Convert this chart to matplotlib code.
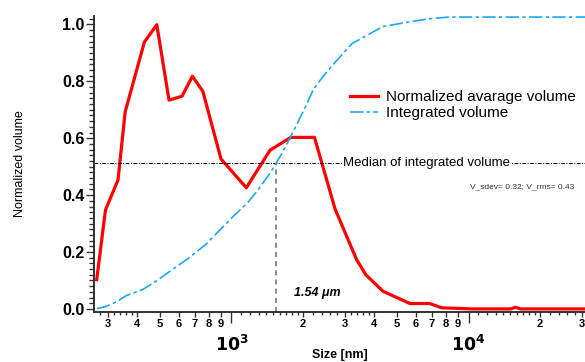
import math
import matplotlib
matplotlib.use("Agg")
import matplotlib.pyplot as plt
from matplotlib.ticker import FixedLocator, FuncFormatter

plt.rcParams['font.family'] = ['Liberation Sans', 'DejaVu Sans']

# Normalized average volume (red)
size_norm = [270, 294, 332, 356, 429, 484, 545, 619, 684, 757, 903, 1155, 1454,
             1778, 2239, 2738, 3373, 3687, 4357, 5659, 6855, 7698, 10260, 15070,
             15750, 16590, 31000]
norm_vol = [0.103, 0.348, 0.453, 0.693, 0.938, 0.999, 0.734, 0.748, 0.818, 0.765,
            0.527, 0.426, 0.558, 0.603, 0.603, 0.350, 0.173, 0.120, 0.062, 0.019,
            0.019, 0.004, 0.0, 0.0, 0.006, 0.0, 0.0]

# Integrated volume (blue)
size_int = [271, 297, 327, 360, 422, 480, 562, 660, 775, 909, 1033, 1174, 1292,
            1468, 1616, 1807, 2022, 2226, 2488, 2784, 3214, 3713, 4359, 5277,
            6813, 8254, 31000]
int_vol = [0.001, 0.009, 0.025, 0.047, 0.068, 0.097, 0.138, 0.179, 0.225, 0.284,
           0.331, 0.375, 0.418, 0.482, 0.541, 0.617, 0.700, 0.775, 0.827, 0.874,
           0.932, 0.961, 0.993, 1.005, 1.020, 1.026, 1.026]

median_size = 1540
median_level = 0.512

fig = plt.figure(figsize=(5.85, 3.62), dpi=100)
ax = fig.add_axes([0.1607, 0.138, 0.8393, 0.818])

ax.plot(size_norm, norm_vol, color='#FF0000', lw=2.3, label='Normalized avarage volume')
ax.plot(size_int, int_vol, color='#1AA8F2', lw=1.2, dashes=[8, 2, 2, 2],
        label='Integrated volume')

# median guides
ax.axhline(median_level, color='black', lw=0.7, dashes=[4, 1.5, 1, 1.5])
ax.plot([median_size, median_size], [-0.011, median_level], color='#777777',
        lw=1.2, dashes=[3, 2.5])
ax.text(2950, median_level, 'Median of integrated volume', fontsize=9.5,
        va='center', ha='left', bbox=dict(facecolor='white', edgecolor='none', pad=0.5))
ax.text(2300, 0.057, '1.54 \u03bcm', fontsize=9, fontweight='bold', style='italic',
        ha='center', va='center')
ax.text(28000, 0.429, 'V_sdev= 0.32; V_rms= 0.43', fontsize=6, ha='right',
        va='center', color='#333333')

ax.set_xscale('log')
ax.set_xlim(263, 31000)
ax.set_ylim(-0.011, 1.03)

# x ticks
ax.xaxis.set_major_locator(FixedLocator([1e3, 1e4]))
ax.xaxis.set_major_formatter(FuncFormatter(
    lambda v, p: r'$\mathbf{10^{%d}}$' % round(math.log10(v))))
labelled = [m * 10 ** e for e in (2, 3, 4) for m in range(2, 10)]
fine = ([m / 10 * 10 ** e for e in (2, 3, 4) for m in range(11, 20)] +
        [m / 10 * 10 ** e for e in (2, 3, 4) for m in (22, 24, 26, 28, 32, 34, 36, 38)])
minor_locs = sorted(labelled + fine)
ax.xaxis.set_minor_locator(FixedLocator(minor_locs))


def is_labelled(v):
    return any(abs(v - x) / x < 1e-6 for x in labelled)


def minor_fmt(v, p):
    if is_labelled(v):
        return str(int(round(v / 10 ** math.floor(math.log10(v) + 1e-9))))
    return ''


ax.xaxis.set_minor_formatter(FuncFormatter(minor_fmt))
ax.tick_params(axis='x', which='major', length=8, width=1, pad=8, labelsize=12.5,
               color='#333333')
ax.tick_params(axis='x', which='minor', length=3.6, width=1, pad=1.5, labelsize=8,
               color='#333333')
for tick, loc in zip(ax.xaxis.get_minor_ticks(len(minor_locs)), minor_locs):
    if not is_labelled(loc):
        tick.tick1line.set_markersize(2.2)
for lab in ax.xaxis.get_minorticklabels():
    lab.set_fontweight('bold')

# y ticks
ax.set_yticks([0, 0.2, 0.4, 0.6, 0.8, 1.0])
ax.yaxis.set_major_formatter(FuncFormatter(lambda v, p: '%.1f' % v))
ax.yaxis.set_minor_locator(FixedLocator([i * 0.02 for i in range(52)]))
ax.tick_params(axis='y', which='major', length=6, width=1, pad=1, labelsize=11.5,
               color='#333333')
ax.tick_params(axis='y', which='minor', length=3.6, width=1, color='#333333')
for lab in ax.get_yticklabels():
    lab.set_fontweight('bold')

for s in ('top', 'right'):
    ax.spines[s].set_visible(False)
for s in ('left', 'bottom'):
    ax.spines[s].set_linewidth(1.3)
    ax.spines[s].set_color('#222222')

ax.set_xlabel('Size [nm]', fontsize=9, fontweight='bold')
ax.xaxis.set_label_coords(0.5, -0.125)
ax.set_ylabel('Normalized volume', fontsize=9, labelpad=26)

ax.legend(loc='upper left', bbox_to_anchor=(0.521, 0.75), frameon=False,
          fontsize=11, handlelength=1.85, handletextpad=0.55, labelspacing=0.15,
          borderpad=0, borderaxespad=0)

fig.savefig('out.png', dpi=100)
